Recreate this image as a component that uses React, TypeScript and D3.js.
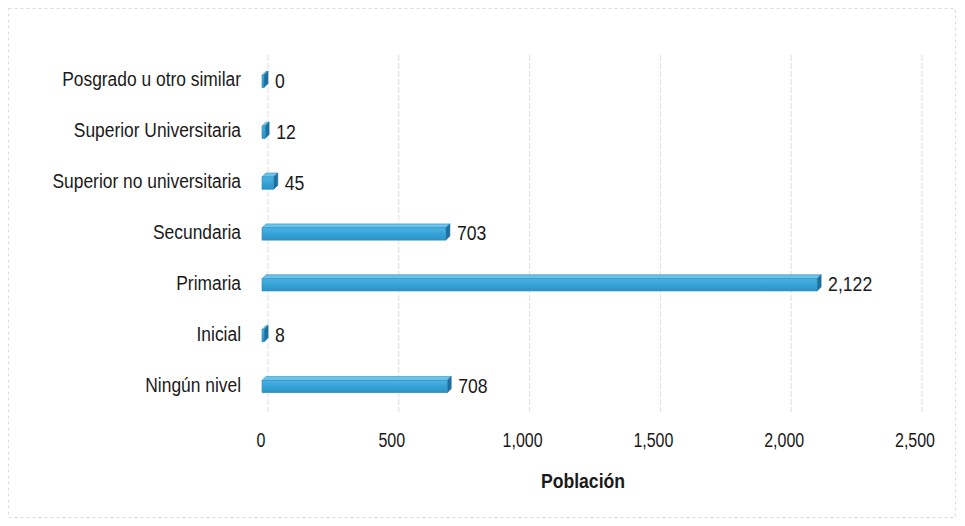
import React from "react";
import * as d3 from "d3";

const categories = [
  "Posgrado u otro similar",
  "Superior Universitaria",
  "Superior no universitaria",
  "Secundaria",
  "Primaria",
  "Inicial",
  "Ningún nivel",
];
const values = [0, 12, 45, 703, 2122, 8, 708];
const xTicks = [0, 500, 1000, 1500, 2000, 2500];

const W = 965;
const H = 526;
const FONT = "'Liberation Sans', Arial, sans-serif";

function Narrow({
  x,
  y,
  anchor = "start",
  size = 20,
  weight = "normal",
  squeeze = 0.84,
  children,
}: {
  x: number;
  y: number;
  anchor?: "start" | "middle" | "end";
  size?: number;
  weight?: string;
  squeeze?: number;
  children: React.ReactNode;
}) {
  return (
    <text
      transform={`translate(${x},${y}) scale(${squeeze},1)`}
      dy="0.35em"
      textAnchor={anchor}
      fontSize={size}
      fontWeight={weight}
      fill="#1a1a1a"
    >
      {children}
    </text>
  );
}

export default function App() {
  const x = d3.scaleLinear().domain([0, 2500]).range([268, 922]);
  const y = d3
    .scaleBand<string>()
    .domain(categories)
    .range([55, 411])
    .paddingInner(0.72)
    .paddingOuter(0.36);
  const fmt = d3.format(",");
  const depth = 4;
  const shift = -6;

  return (
    <svg
      width={W}
      height={H}
      style={{ position: "absolute", left: 0, top: 0, background: "#fff" }}
      fontFamily={FONT}
    >
      <defs>
        <linearGradient id="barFront" x1="0" y1="0" x2="0" y2="1">
          <stop offset="0" stopColor="#4db3e2" />
          <stop offset="0.5" stopColor="#35a2d6" />
          <stop offset="1" stopColor="#2a93c8" />
        </linearGradient>
      </defs>
      <rect
        x={8.5}
        y={8.5}
        width={947}
        height={509}
        fill="none"
        stroke="#dcdcdc"
        strokeDasharray="3 3"
      />
      {xTicks.map((t) => (
        <line
          key={t}
          x1={x(t)}
          x2={x(t)}
          y1={55}
          y2={412}
          stroke="#dedede"
          strokeWidth={1}
          strokeDasharray="6 2"
        />
      ))}
      {categories.map((c, i) => {
        const v = values[i];
        const y0 = (y(c) ?? 0) + 2;
        const h = y.bandwidth() - 2;
        const x0 = x(0) + shift;
        const x1 = Math.max(x(v) + shift, x0 + 2);
        return (
          <g key={c}>
            <polygon
              points={`${x0},${y0} ${x0 + depth},${y0 - depth} ${x1 + depth},${y0 - depth} ${x1},${y0}`}
              fill="#6cc3ea"
              stroke="#2b8cbf"
              strokeWidth={0.6}
            />
            <polygon
              points={`${x1},${y0} ${x1 + depth},${y0 - depth} ${x1 + depth},${y0 + h - depth} ${x1},${y0 + h}`}
              fill="#1d6f9c"
              stroke="#1d6f9c"
              strokeWidth={0.6}
            />
            <rect
              x={x0}
              y={y0}
              width={x1 - x0}
              height={h}
              fill="url(#barFront)"
              stroke="#2b8cbf"
              strokeWidth={0.6}
            />
            <Narrow x={x1 + depth + 7} y={y0 + h / 2 - 1} size={21}>
              {fmt(v)}
            </Narrow>
            <Narrow x={241} y={y0 + h / 2 - 2} anchor="end" size={20} squeeze={0.87}>
              {c}
            </Narrow>
          </g>
        );
      })}
      {xTicks.map((t) => (
        <Narrow key={t} x={x(t) - 7} y={440} anchor="middle" size={20} squeeze={0.8}>
          {fmt(t)}
        </Narrow>
      ))}
      <Narrow x={583} y={481} anchor="middle" size={21} weight="bold">
        Población
      </Narrow>
    </svg>
  );
}
